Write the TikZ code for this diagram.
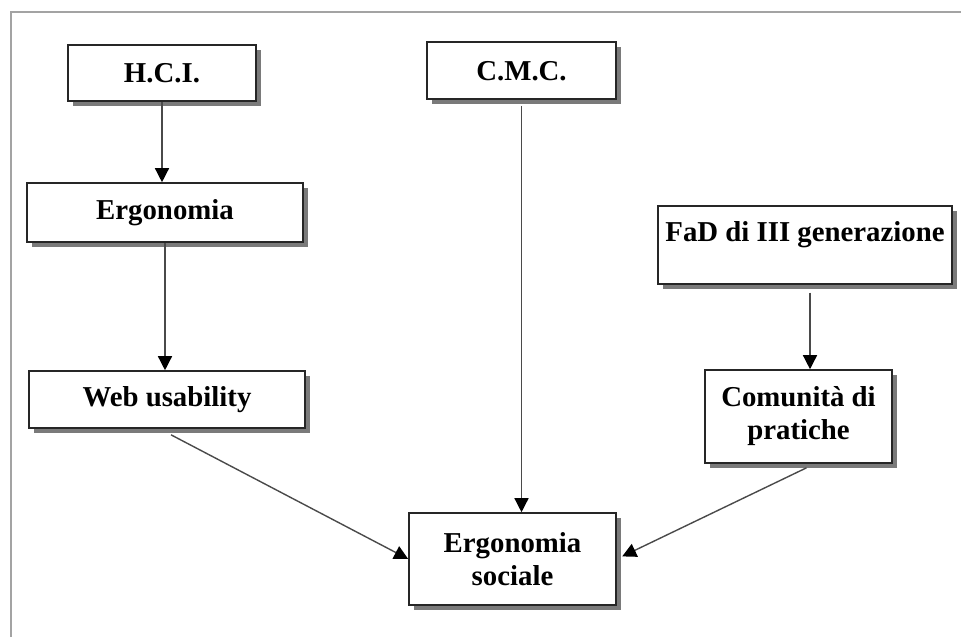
\documentclass[tikz,border=0pt]{standalone}
\usepackage{fontspec}
\setmainfont{Liberation Serif}
\usepackage{tikz}
\usetikzlibrary{
  arrows.meta, positioning, calc, shadows
}
\definecolor{framegray}{HTML}{A3A3A3}
\definecolor{linkgray}{HTML}{4A4A4A}

\begin{document}
\begin{tikzpicture}[x=0.5pt, y=-0.5pt,
  box/.style={draw=black!85, line width=0.8pt, fill=white, align=center,
    font=\bfseries\fontsize{14.4}{16.5}\selectfont, inner sep=2pt,
    drop shadow={shadow xshift=2.5pt, shadow yshift=-2.5pt,
      fill=black!80, opacity=0.65}},
  link/.style={draw=linkgray, line width=0.7pt,
    -{Triangle[length=7pt, width=7pt, black]}}]
  \useasboundingbox (0,0) rectangle (961,637);

  % Frame
  \draw[framegray, line width=1pt] (11,637) -- (11,12) -- (961,12);

  % Boxes
  \node[box, minimum width=94pt, minimum height=28pt] (hci) at (162,73) {H.C.I.};
  \node[box, minimum width=138pt, minimum height=29.5pt] (ergo) at (165,212.5) {Ergonomia};
  \node[box, minimum width=138pt, minimum height=28.5pt] (web) at (167,399.5) {Web usability};
  \node[box, minimum width=94.5pt, minimum height=28.5pt, text depth=0pt] (cmc) at (521.5,70.5) {C.M.C.};
  \node[box, anchor=north, minimum width=147pt, inner ysep=8pt, text depth=13pt]
    (fad) at (805,205) {FaD di III generazione};
  \node[box, minimum width=93.5pt, minimum height=46.5pt] (com) at (798.5,416.5)
    {Comunità di\\pratiche};
  \node[box, minimum width=103.5pt, minimum height=46pt] (soc) at (512.5,559)
    {Ergonomia\\sociale};

  % Arrows
  \draw[link] (hci.south) -- (hci.south |- ergo.north);
  \draw[link] (ergo.south) -- (ergo.south |- web.north);
  \draw[link] ([yshift=-3pt]cmc.south) -- (cmc.south |- soc.north);
  \draw[link] ([xshift=2.5pt, yshift=-4pt]fad.south) -- ([xshift=2.5pt]fad.south |- com.north);
  \draw[link] ([xshift=2pt, yshift=-3pt]web.south) -- (soc.west);
  \draw[link, shorten >=3pt] ([xshift=4pt, yshift=-2pt]com.south) -- (soc.east);
\end{tikzpicture}
\end{document}
